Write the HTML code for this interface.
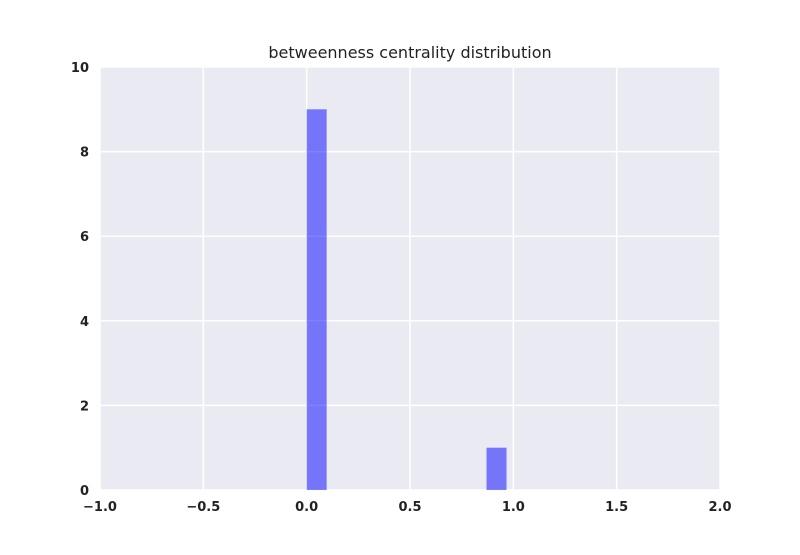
<!DOCTYPE html>
<html><head><meta charset="utf-8"><style>
body{margin:0;background:#fff;font-family:"Liberation Sans","DejaVu Sans",sans-serif}
</style></head><body>
<svg id="chart" width="800" height="550" xmlns="http://www.w3.org/2000/svg">
<rect x="100" y="67" width="620" height="423" fill="#eaeaf2"/>
<g id="grid"></g><g id="bars"></g><g id="ticks"></g>
<text x="410" y="58" text-anchor="middle" font-size="16" fill="#222" font-family="DejaVu Sans, sans-serif">betweenness centrality distribution</text>
</svg>
<script>
const binStarts=[0.0,0.8703];
const binWidths=[0.0967,0.0967];
const counts=[9,1];
const xTicks=[-1.0,-0.5,0.0,0.5,1.0,1.5,2.0];
const xTickLabels=["\u22121.0","\u22120.5","0.0","0.5","1.0","1.5","2.0"];
const yTicks=[0,2,4,6,8,10];
const yTickLabels=["0","2","4","6","8","10"];
const X0=100,X1=720,Y0=490,Y1=67;
const sx=v=>X0+(v-(-1))/3*(X1-X0);
const sy=v=>Y0-v/10*(Y0-Y1);
const NS="http://www.w3.org/2000/svg";
const g=document.getElementById('grid'),b=document.getElementById('bars'),t=document.getElementById('ticks');
function mk(tag,attrs,parent){const e=document.createElementNS(NS,tag);for(const k in attrs)e.setAttribute(k,attrs[k]);parent.appendChild(e);return e;}
xTicks.forEach((v,i)=>{
 const l=mk('line',{x1:sx(v),x2:sx(v),y1:Y1,y2:Y0,stroke:'#fff','stroke-width':1.5},g);
 
 
 const tx=mk('text',{x:sx(v),y:Y0+21,'text-anchor':'middle','font-size':13,'font-weight':'bold',fill:'#222','font-family':'DejaVu Sans, sans-serif'},t);
 tx.textContent=xTickLabels[i];
 
 
});
yTicks.forEach((v,i)=>{
 const l=mk('line',{x1:X0,x2:X1,y1:sy(v),y2:sy(v),stroke:'#fff','stroke-width':1.5},g);
 
 
 const tx=mk('text',{x:X0-11,y:sy(v)+5,'text-anchor':'end','font-size':13,'font-weight':'bold',fill:'#222','font-family':'DejaVu Sans, sans-serif'},t);
 tx.textContent=yTickLabels[i];
 
 
});
counts.forEach((c,i)=>{
 const x=sx(binStarts[i]),w=sx(binStarts[i]+binWidths[i])-x;
 const r=mk('rect',{x:x,y:sy(c),width:w,height:Y0-sy(c),fill:'#0000ff','fill-opacity':0.5},b);
 
 
});
</script>
</body></html>
